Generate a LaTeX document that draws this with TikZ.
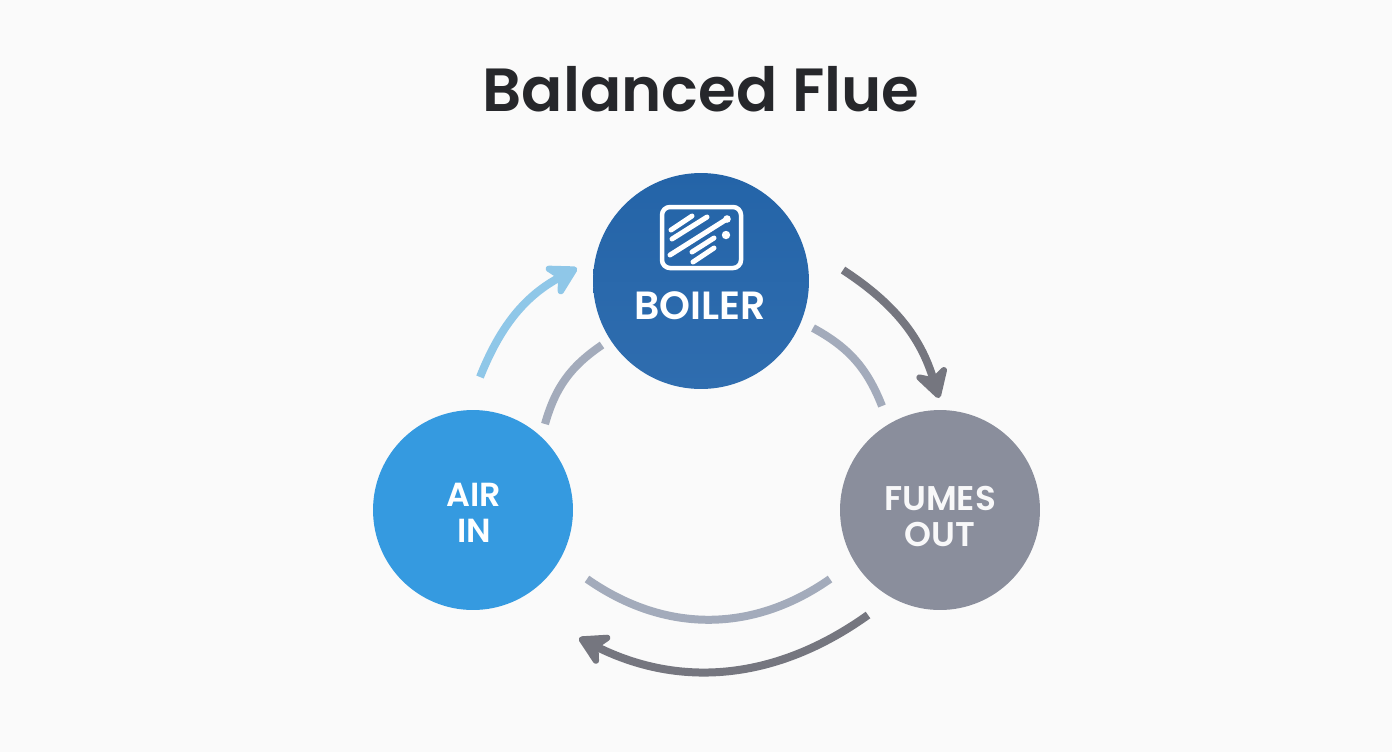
\documentclass[tikz,border=0pt]{standalone}
\usepackage{fontspec}
\setmainfont{Poppins}[BoldFont={Poppins SemiBold}]
\usetikzlibrary{arrows.meta}
\definecolor{paper}{HTML}{FAFAFA}
\definecolor{boilertop}{HTML}{2464A8}
\definecolor{boilerlow}{HTML}{2F6DAF}
\definecolor{airblue}{HTML}{359AE0}
\definecolor{fumegray}{HTML}{8A8E9C}
\definecolor{skyline}{HTML}{8FC7E8}
\definecolor{paleline}{HTML}{A3ABBB}
\definecolor{darkline}{HTML}{75767F}
\tikzset{
	ball/.style={circle,inner sep=0pt,draw=none},
	ballname/.style={text=white,align=center,font=\fontsize{22.4}{20.5}\selectfont\bfseries},
	duct/.style={line width=.16cm},
	flow/.style={line width=.16cm,-{Stealth[length=.72cm,width=.82cm,inset=.22cm,round=false]}},
	icon/.style={white,line width=.09cm,line cap=round}
}
\begin{document}
\begin{tikzpicture}[x=.02cm,y=-.02cm]
	\fill[paper] (0,0) rectangle (1392,752);
	\useasboundingbox (0,0) rectangle (1392,752);
	\node (title) at (701,89) {\fontsize{34.7}{38}\selectfont\bfseries\color[HTML]{26272B}Balanced Flue};
	\node[ball,minimum size=4.32cm,top color=boilertop,bottom color=boilerlow] (boiler) at (701,281) {};
	\node[ball,minimum size=4cm,fill=airblue] (air) at (473,510) {};
	\node[ball,minimum size=4cm,fill=fumegray] (fumes) at (940,510) {};
	\node[ballname] (boilername) at (700,306) {BOILER};
	\node[ballname,font=\fontsize{19}{20.5}\selectfont\bfseries] (airname) at (474,513) {AIR\\IN};
	\node[ballname,font=\fontsize{19.5}{20.5}\selectfont\bfseries,text=white!94!fumegray] (fumesname) at (940,516) {FUMES\\OUT};
	% ends of the arcs
	\coordinate (a1) at (480,377);
	\coordinate (a2) at (577,268);
	\coordinate (b1) at (545,424);
	\coordinate (b2) at (602,345);
	\coordinate (c1) at (843,270);
	\coordinate (c2) at (939,398);
	\coordinate (d1) at (813,328);
	\coordinate (d2) at (882,406);
	\coordinate (e1) at (868,615);
	\coordinate (e2) at (579,638);
	\coordinate (f1) at (830,579);
	\coordinate (f2) at (587,579);
	\draw[flow,skyline] (a1) to[bend left=20] (a2);
	\draw[duct,paleline] (b1) to[bend left=20] (b2);
	\draw[flow,darkline] (c1) to[bend left=20] (c2);
	\draw[duct,paleline] (d1) to[bend left=20] (d2);
	\draw[flow,darkline] (e1) to[bend left=31] (e2);
	\draw[duct,paleline] (f1) to[bend left=35] (f2);
	% icon on the boiler
	\draw[icon,rounded corners=.16cm] (662,207) rectangle (741,268);
	\draw[icon,line width=.1cm] (671,230)--(692,216) (672,239)--(707,217) (670,255)--(727,219) (692,252)--(714,238) (693,262)--(714,248);
	\fill[white] (727,219) circle (3.8) (726,235) circle (4.2);
\end{tikzpicture}
\end{document}
